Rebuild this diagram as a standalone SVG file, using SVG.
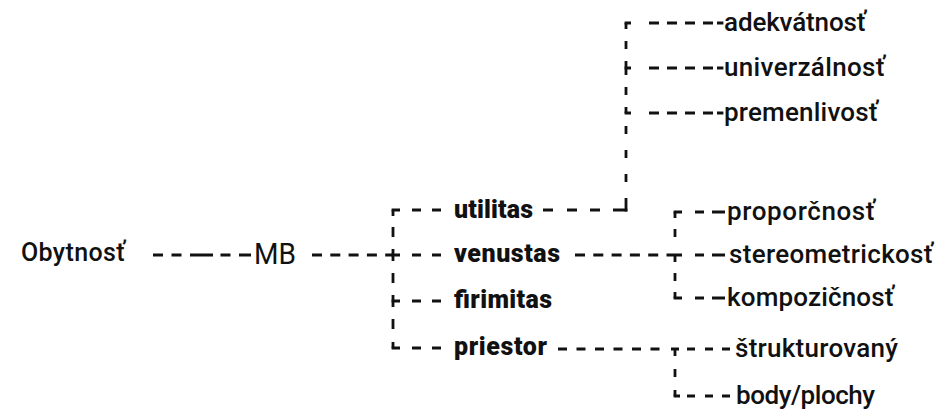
<svg xmlns="http://www.w3.org/2000/svg" width="937" height="416" viewBox="0 0 937 416">
<style>
.t{font-family:Roboto,"Liberation Sans",sans-serif;fill:#111;font-size:26px;font-weight:500;}
.b{font-weight:900;font-size:25px;}
.o{font-size:25px;}
.m{font-size:29px;font-weight:400;}
.c{fill:none;stroke:#111;stroke-width:2.8;stroke-linecap:butt;}
</style>
<rect width="937" height="416" fill="#fff"/>
<g id="connectors">
<path class="c" d="M153 255 H200" stroke-dasharray="10 8.5 10 8.5 10"/>
<path class="c" d="M200 255 H251" stroke-dasharray="13 7.5 10 8.5 12"/>
<path class="c" d="M312 255 H393" stroke-dasharray="10 8.3 10 8.3 10 8.3 10 8.3 10"/>
<path class="c" d="M393 210 V348" stroke-dasharray="6 11 10 12 12 12 10 12 12 12 10 13 6"/>
<path class="c" d="M391.6 210 H441" stroke-dasharray="8.4 12 9 11 9"/>
<path class="c" d="M391.6 255 H441" stroke-dasharray="8.4 12 9 11 9"/>
<path class="c" d="M391.6 301 H441" stroke-dasharray="8.4 12 9 11 9"/>
<path class="c" d="M391.6 348 H441" stroke-dasharray="8.4 12 9 11 9"/>
<path class="c" d="M543 210 H627.4" stroke-dasharray="10 14 10 13 10 13 14.4"/>
<path class="c" d="M626 23 V211.4" stroke-dasharray="6 12 8 12 14 12 8 12 6 13 8 16 8 16 8 16 13.4"/>
<path class="c" d="M624.6 23 H723.4" stroke-dasharray="6.4 18 10 8 10 8 10 8 10 4 6.4"/>
<path class="c" d="M624.6 68 H723.4" stroke-dasharray="6.4 18 10 8 10 8 10 8 10 4 6.4"/>
<path class="c" d="M624.6 113 H723.4" stroke-dasharray="6.4 18 10 8 10 8 10 8 10 4 6.4"/>
<path class="c" d="M575 255 H725" stroke-dasharray="10 8.3 10 8.3 10 8.3 10 8.3 10 8.3 15.5 13 9 8 13"/>
<path class="c" d="M675 212 V298" stroke-dasharray="6 11 8 18 7 11 8 11 6"/>
<path class="c" d="M673.6 212 H725" stroke-dasharray="8.4 13 9 8 13"/>
<path class="c" d="M673.6 298 H725" stroke-dasharray="8.4 13 9 8 13"/>
<path class="c" d="M558 349 H730" stroke-dasharray="9 9.5 9 9.5 9 9.5 9 9.5 9 9.5 9 11.5 8 8 8 10 8 9 8"/>
<path class="c" d="M675 349 V396" stroke-dasharray="7 13 8 13 6"/>
<path class="c" d="M673.6 396 H730" stroke-dasharray="6.4 7 8 10 8 9 8"/>
</g>
<g id="n-obytnost"><text class="t o" x="21" y="261" textLength="104" lengthAdjust="spacing">Obytnosť</text></g>
<g id="n-mb"><text class="t m" x="254" y="264" textLength="42" lengthAdjust="spacingAndGlyphs">MB</text></g>
<g id="n-utilitas"><text class="t b" x="454" y="218" textLength="79" lengthAdjust="spacing">utilitas</text></g>
<g id="n-venustas"><text class="t b" x="454" y="262" textLength="106" lengthAdjust="spacing">venustas</text></g>
<g id="n-firimitas"><text class="t b" x="454" y="308" textLength="98" lengthAdjust="spacing">firimitas</text></g>
<g id="n-priestor"><text class="t b" x="454" y="355" textLength="93" lengthAdjust="spacing">priestor</text></g>
<g id="n-adekvatnost"><text class="t" x="724" y="31" textLength="142" lengthAdjust="spacing">adekvátnosť</text></g>
<g id="n-univerzalnost"><text class="t" x="724" y="76" textLength="161" lengthAdjust="spacing">univerzálnosť</text></g>
<g id="n-premenlivost"><text class="t" x="724" y="121" textLength="154" lengthAdjust="spacing">premenlivosť</text></g>
<g id="n-proporcnost"><text class="t" x="727" y="220" textLength="148" lengthAdjust="spacing">proporčnosť</text></g>
<g id="n-stereometrickost"><text class="t" x="729" y="263" textLength="204" lengthAdjust="spacing">stereometrickosť</text></g>
<g id="n-kompozicnost"><text class="t" x="727" y="306" textLength="167" lengthAdjust="spacing">kompozičnosť</text></g>
<g id="n-strukturovany"><text class="t" x="735" y="357" textLength="163" lengthAdjust="spacing">štrukturovaný</text></g>
<g id="n-body"><text class="t" x="736" y="404" textLength="139" lengthAdjust="spacing">body/plochy</text></g>
</svg>
